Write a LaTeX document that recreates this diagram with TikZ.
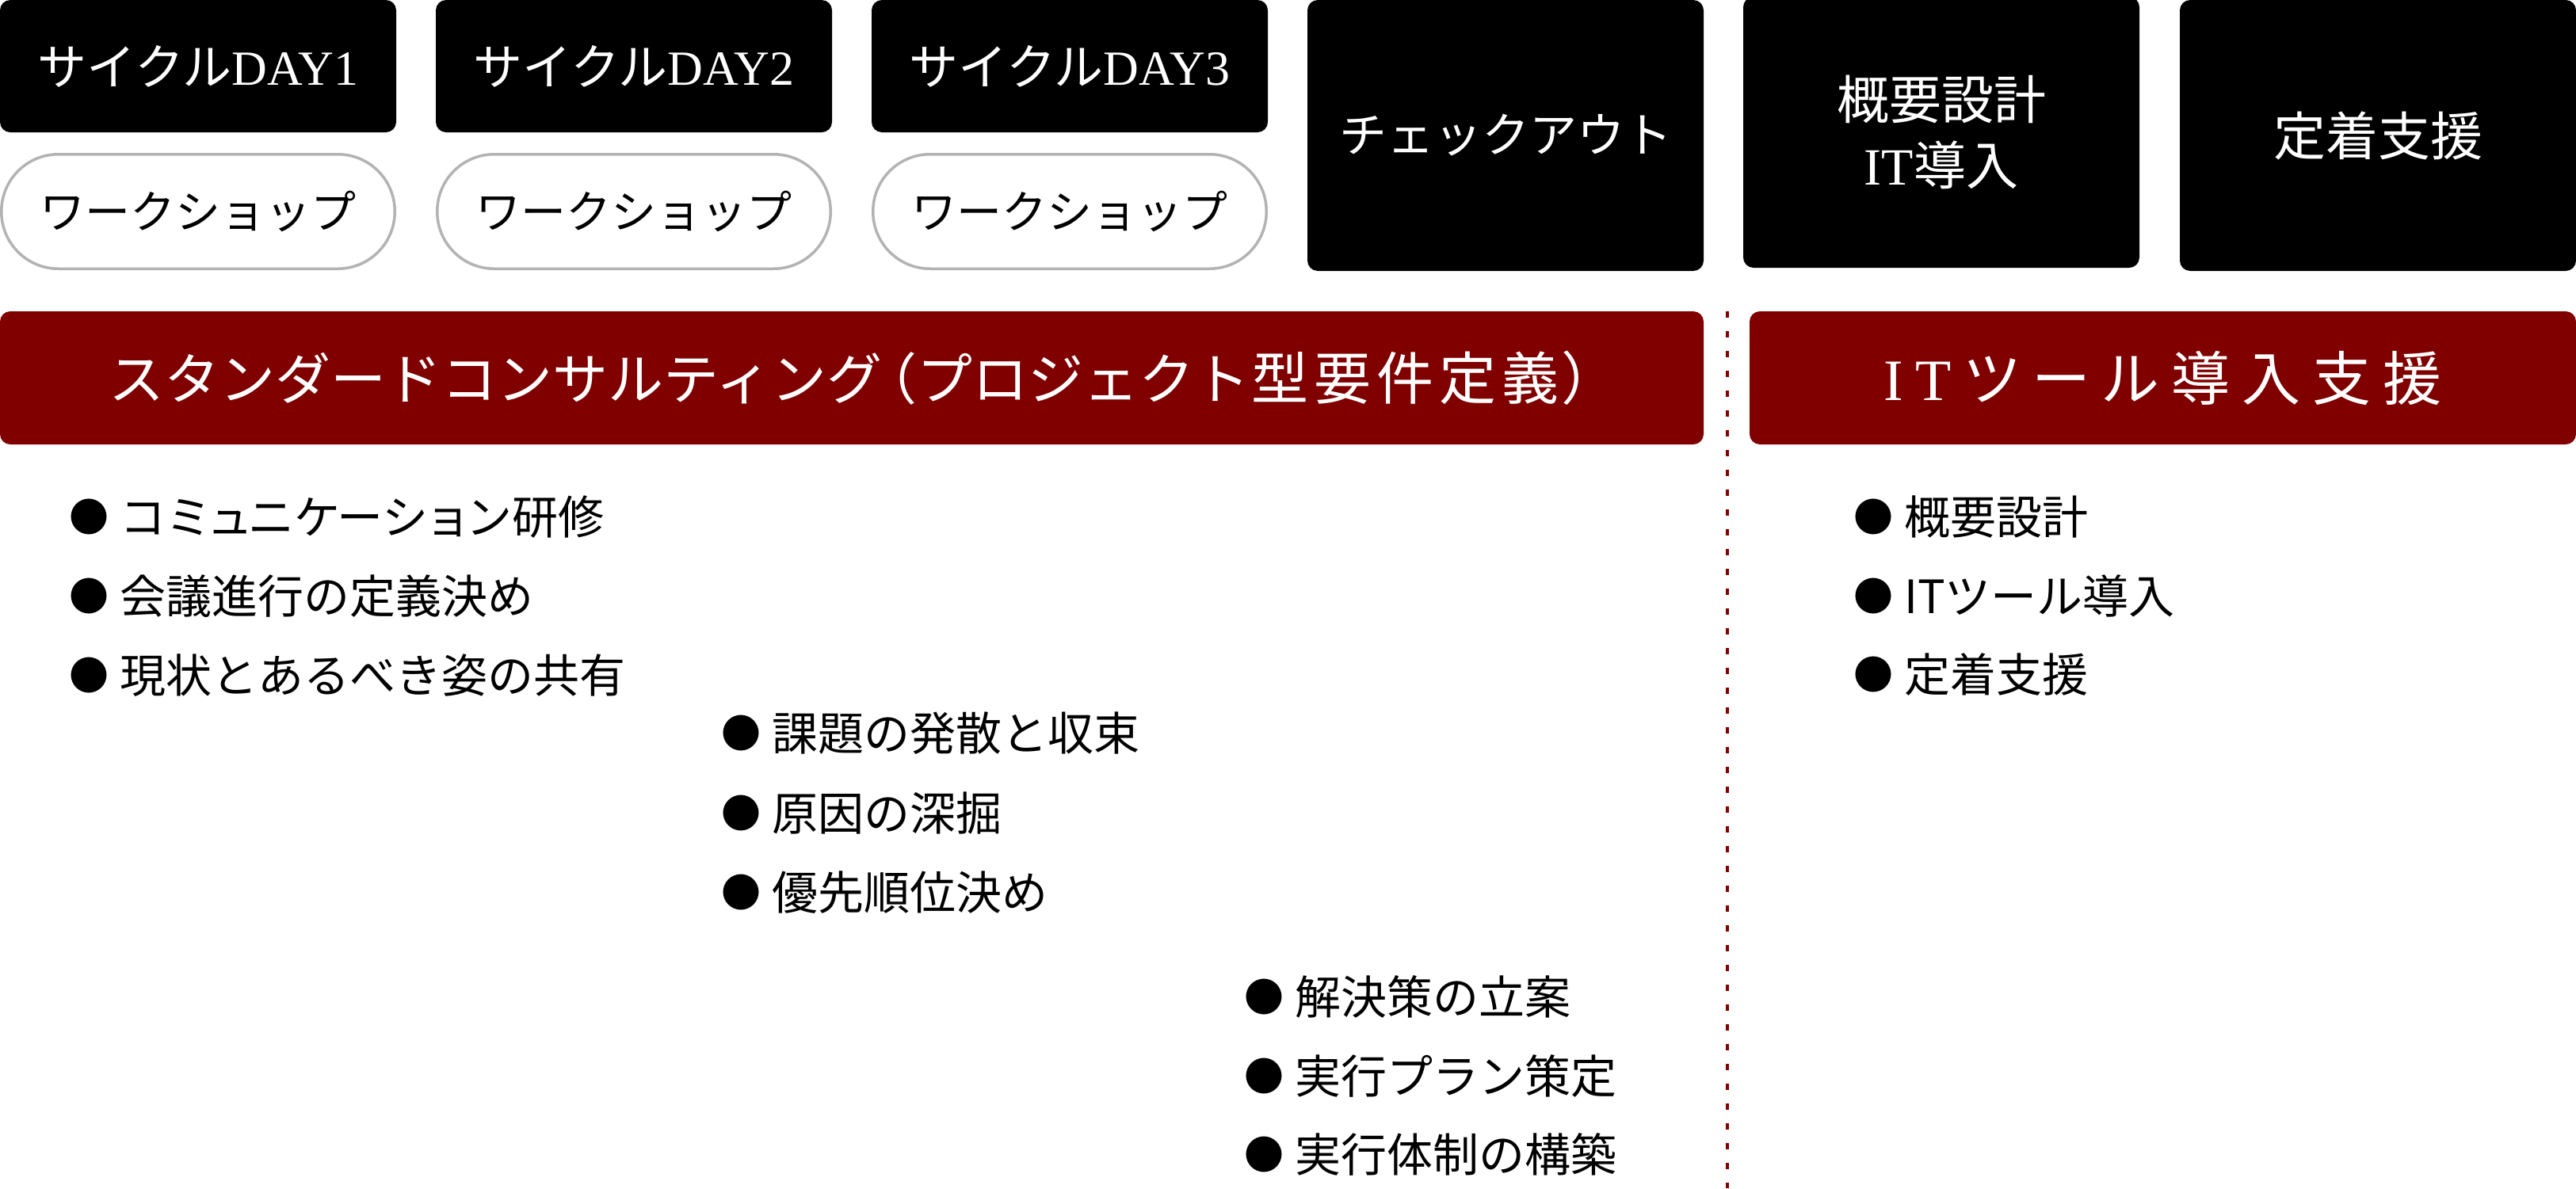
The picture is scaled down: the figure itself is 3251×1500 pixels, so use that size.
\documentclass[tikz,border=0pt]{standalone}
\usepackage{fontspec}
\setmainfont{Noto Sans CJK JP}
\newfontfamily\lserif{Liberation Serif}
\definecolor{maroonbar}{HTML}{800000}
\definecolor{pillgray}{HTML}{B3B3B3}
\newcommand{\bul}{{\fontsize{50}{50}\selectfont\raisebox{3pt}{●}}\hspace{14pt}}
\tikzset{
  blackbox/.style={fill=black, rounded corners=13, inner sep=0, text=white, align=center,
    minimum width=500},
  pillbox/.style={draw=pillgray, line width=3.5, fill=white, rounded corners=72, inner sep=0,
    minimum width=496.5, minimum height=144.5, font=\fontsize{57}{66}\selectfont},
  redbar/.style={fill=maroonbar, rounded corners=13, inner sep=0, text=white,
    minimum height=168, font=\fontsize{72}{86}\selectfont},
  itemtext/.style={anchor=west, inner sep=0, font=\fontsize{58}{66}\selectfont},
  sepline/.style={draw=maroonbar, line width=4, dash pattern=on 8 off 17}
}
\begin{document}
\begin{tikzpicture}[x=1pt,y=-1pt]
\useasboundingbox (0,0) rectangle (3251,1500);
% top row
\node[blackbox, minimum height=167, font=\fontsize{62}{83}\selectfont] (day1) at (250,83.5) {サイクル{\lserif DAY1}};
\node[blackbox, minimum height=167, font=\fontsize{62}{83}\selectfont] (day2) at (800,83.5) {サイクル{\lserif DAY2}};
\node[blackbox, minimum height=167, font=\fontsize{62}{83}\selectfont] (day3) at (1350,83.5) {サイクル{\lserif DAY3}};
\node[pillbox] (ws1) at (250,267) {ワークショップ};
\node[pillbox] (ws2) at (800,267) {ワークショップ};
\node[pillbox] (ws3) at (1350,267) {ワークショップ};
\node[blackbox, minimum height=342, font=\fontsize{60}{83}\selectfont] (checkout) at (1900,171) {チェックアウト};
\node[blackbox, minimum height=342, font=\fontsize{66}{83}\selectfont] (design) at (2450,167) {概要設計\\{\lserif IT}導入};
\node[blackbox, minimum height=342, font=\fontsize{66}{83}\selectfont] (support) at (3001,171) {定着支援};
% red bars
\node[redbar, minimum width=2150] (std) at (1075,477)
  {{\fontsize{70}{84}\selectfont スタンダードコンサルティング\kern-26pt（プロジェクト}\hspace{2pt}型\hspace{7pt}要\hspace{7pt}件\hspace{7pt}定\hspace{7pt}義\hspace{3pt}）\kern-30pt};
\node[redbar, minimum width=1043, font=\fontsize{74}{86}\selectfont] (itbar) at (2729.5,477)
  {{\lserif I}\hspace{15pt}{\lserif T}\hspace{15pt}ツ\hspace{13pt}ー\hspace{13pt}ル\hspace{15pt}導\hspace{15pt}入\hspace{15pt}支\hspace{15pt}援\hspace{14pt}};
% separator
\coordinate (septop) at (2180,393);
\coordinate (sepbot) at (2180,1500);
\draw[sepline] (septop) -- (sepbot);
% bullets group 1
\node[itemtext] (a1) at (87.5,653) {\bul コミ\kern-6ptュ\kern-6ptニケ\kern-4ptーシ\kern-4ptョ\kern-6ptン研修};
\node[itemtext] (a2) at (87.5,753) {\bul 会議進行の定義決め};
\node[itemtext] (a3) at (87.5,853) {\bul 現状とあるべき姿の共有};
% group 2
\node[itemtext] (b1) at (910,926) {\bul 課題の発散と収束};
\node[itemtext] (b2) at (910,1027) {\bul 原因の深掘};
\node[itemtext] (b3) at (910,1127) {\bul 優先順位決め};
% group 3
\node[itemtext] (c1) at (1570,1258) {\bul 解決策の立案};
\node[itemtext] (c2) at (1570,1358) {\bul 実行プラン策定};
\node[itemtext] (c3) at (1570,1457) {\bul 実行体制の構築};
% right group
\node[itemtext] (d1) at (2339,653) {\bul 概要設計};
\node[itemtext] (d2) at (2339,752) {\bul ITツール導入};
\node[itemtext] (d3) at (2339,852) {\bul 定着支援};
\end{tikzpicture}
\end{document}
